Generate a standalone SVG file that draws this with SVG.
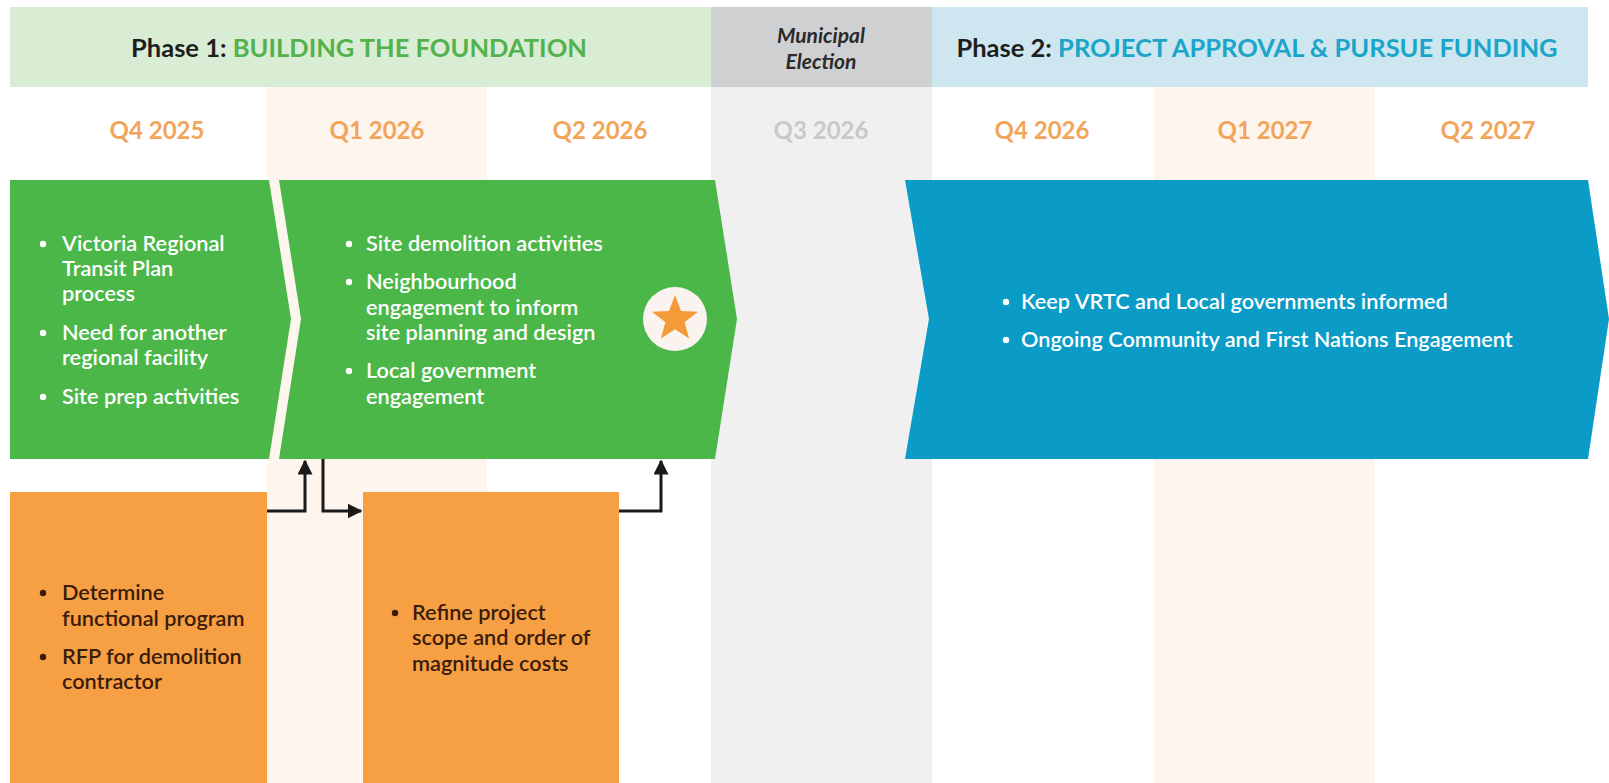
<svg xmlns="http://www.w3.org/2000/svg" width="1609" height="783" viewBox="0 0 1609 783">
<defs>
<style>
text{font-family:Lato,"Open Sans","Liberation Sans",sans-serif;}
.hdr{font-size:25.5px;font-weight:700;fill:#1e1e1e;}
.q{font-size:24px;font-weight:700;fill:#f2a55a;text-anchor:middle;}
.qg{fill:#c9c9c9;}
.wt{font-size:21.7px;font-weight:600;fill:#ffffff;}
.ot{font-size:21.7px;font-weight:600;fill:#3a1c0c;}
.conn{fill:none;stroke:#1a1a1a;stroke-width:3;}
</style>
<marker id="ah" viewBox="0 0 10 10" refX="9" refY="5" markerWidth="5" markerHeight="5" orient="auto" markerUnits="strokeWidth">
<path d="M0,0 L10,5 L0,10 Z" fill="#1a1a1a"/>
</marker>
</defs>
<rect width="1609" height="783" fill="#ffffff"/>
<g id="background">
<rect x="267" y="87" width="220" height="696" fill="#fdf5ee"/>
<rect x="711" y="87" width="221" height="696" fill="#f0f0f1"/>
<rect x="1154" y="87" width="221" height="696" fill="#fdf5ee"/>
</g>
<g id="phase1-header">
<rect x="10" y="7" width="701" height="80" fill="#d9edd5"/>
<text class="hdr" x="359" y="57" text-anchor="middle">Phase 1: <tspan fill="#54b24c">BUILDING THE FOUNDATION</tspan></text>
</g>
<g id="election-header">
<rect x="711" y="7" width="221" height="80" fill="#cfd0d2"/>
<text x="821" y="43" text-anchor="middle" font-size="21" font-weight="700" font-style="italic" fill="#2a2a2a">Municipal</text>
<text x="821" y="69" text-anchor="middle" font-size="21" font-weight="700" font-style="italic" fill="#2a2a2a">Election</text>
</g>
<g id="phase2-header">
<rect x="932" y="7" width="656" height="80" fill="#cde6ef"/>
<text class="hdr" x="1257" y="57" text-anchor="middle">Phase 2: <tspan fill="#1ba5c9">PROJECT APPROVAL &amp; PURSUE FUNDING</tspan></text>
</g>
<g id="quarters">
<text class="q" x="157" y="139">Q4 2025</text>
<text class="q" x="377" y="139">Q1 2026</text>
<text class="q" x="600" y="139">Q2 2026</text>
<text class="q qg" x="821" y="139">Q3 2026</text>
<text class="q" x="1042" y="139">Q4 2026</text>
<text class="q" x="1265" y="139">Q1 2027</text>
<text class="q" x="1488" y="139">Q2 2027</text>
</g>
<g id="chevron-q4-2025">
<path d="M10,180 L269,180 L291,319 L269,459 L10,459 Z" fill="#4bb748"/>
<g class="wt">
<circle cx="43" cy="244" r="3.2" fill="#fff"/>
<text x="62" y="251">Victoria Regional</text>
<text x="62" y="276">Transit Plan</text>
<text x="62" y="301">process</text>
<circle cx="43" cy="333" r="3.2" fill="#fff"/>
<text x="62" y="340">Need for another</text>
<text x="62" y="365">regional facility</text>
<circle cx="43" cy="397" r="3.2" fill="#fff"/>
<text x="62" y="404">Site prep activities</text>
</g>
</g>
<g id="chevron-q1-q2-2026">
<path d="M279,180 L715,180 L737,319 L715,459 L279,459 L301,319 Z" fill="#4bb748"/>
<g class="wt">
<circle cx="349" cy="244" r="3.2" fill="#fff"/>
<text x="366" y="251">Site demolition activities</text>
<circle cx="349" cy="282" r="3.2" fill="#fff"/>
<text x="366" y="289">Neighbourhood</text>
<text x="366" y="315">engagement to inform</text>
<text x="366" y="340">site planning and design</text>
<circle cx="349" cy="371" r="3.2" fill="#fff"/>
<text x="366" y="378">Local government</text>
<text x="366" y="404">engagement</text>
</g>
<circle cx="675" cy="319" r="32" fill="#fbf3ef"/>
<path d="M675,295 L681,311 L698,311.7 L684.6,322.3 L689.1,338.6 L675,329.2 L660.9,338.6 L665.4,322.3 L652,311.7 L669,311 Z" fill="#f39b38"/>
</g>
<g id="chevron-phase2">
<path d="M905,180 L1588,180 L1609,319 L1588,459 L905,459 L929,319 Z" fill="#0a9bc6"/>
<g class="wt">
<circle cx="1006" cy="302" r="3.2" fill="#fff"/>
<text x="1021" y="309">Keep VRTC and Local governments informed</text>
<circle cx="1006" cy="340" r="3.2" fill="#fff"/>
<text x="1021" y="347">Ongoing Community and First Nations Engagement</text>
</g>
</g>
<g id="box-q4-2025">
<rect x="10" y="492" width="257" height="291" fill="#f7a043"/>
<g class="ot">
<circle cx="43" cy="593" r="3.2" fill="#3a1c0c"/>
<text x="62" y="600">Determine</text>
<text x="62" y="626">functional program</text>
<circle cx="43" cy="657" r="3.2" fill="#3a1c0c"/>
<text x="62" y="664">RFP for demolition</text>
<text x="62" y="689">contractor</text>
</g>
</g>
<g id="box-q1-2026">
<rect x="363" y="492" width="256" height="291" fill="#f7a043"/>
<g class="ot">
<circle cx="395" cy="613" r="3.2" fill="#3a1c0c"/>
<text x="412" y="620">Refine project</text>
<text x="412" y="645">scope and order of</text>
<text x="412" y="671">magnitude costs</text>
</g>
</g>
<g id="connectors">
<path class="conn" d="M267,511 H305 V461" marker-end="url(#ah)"/>
<path class="conn" d="M323,459 V511 H361" marker-end="url(#ah)"/>
<path class="conn" d="M619,511 H661 V461" marker-end="url(#ah)"/>
</g>
</svg>
